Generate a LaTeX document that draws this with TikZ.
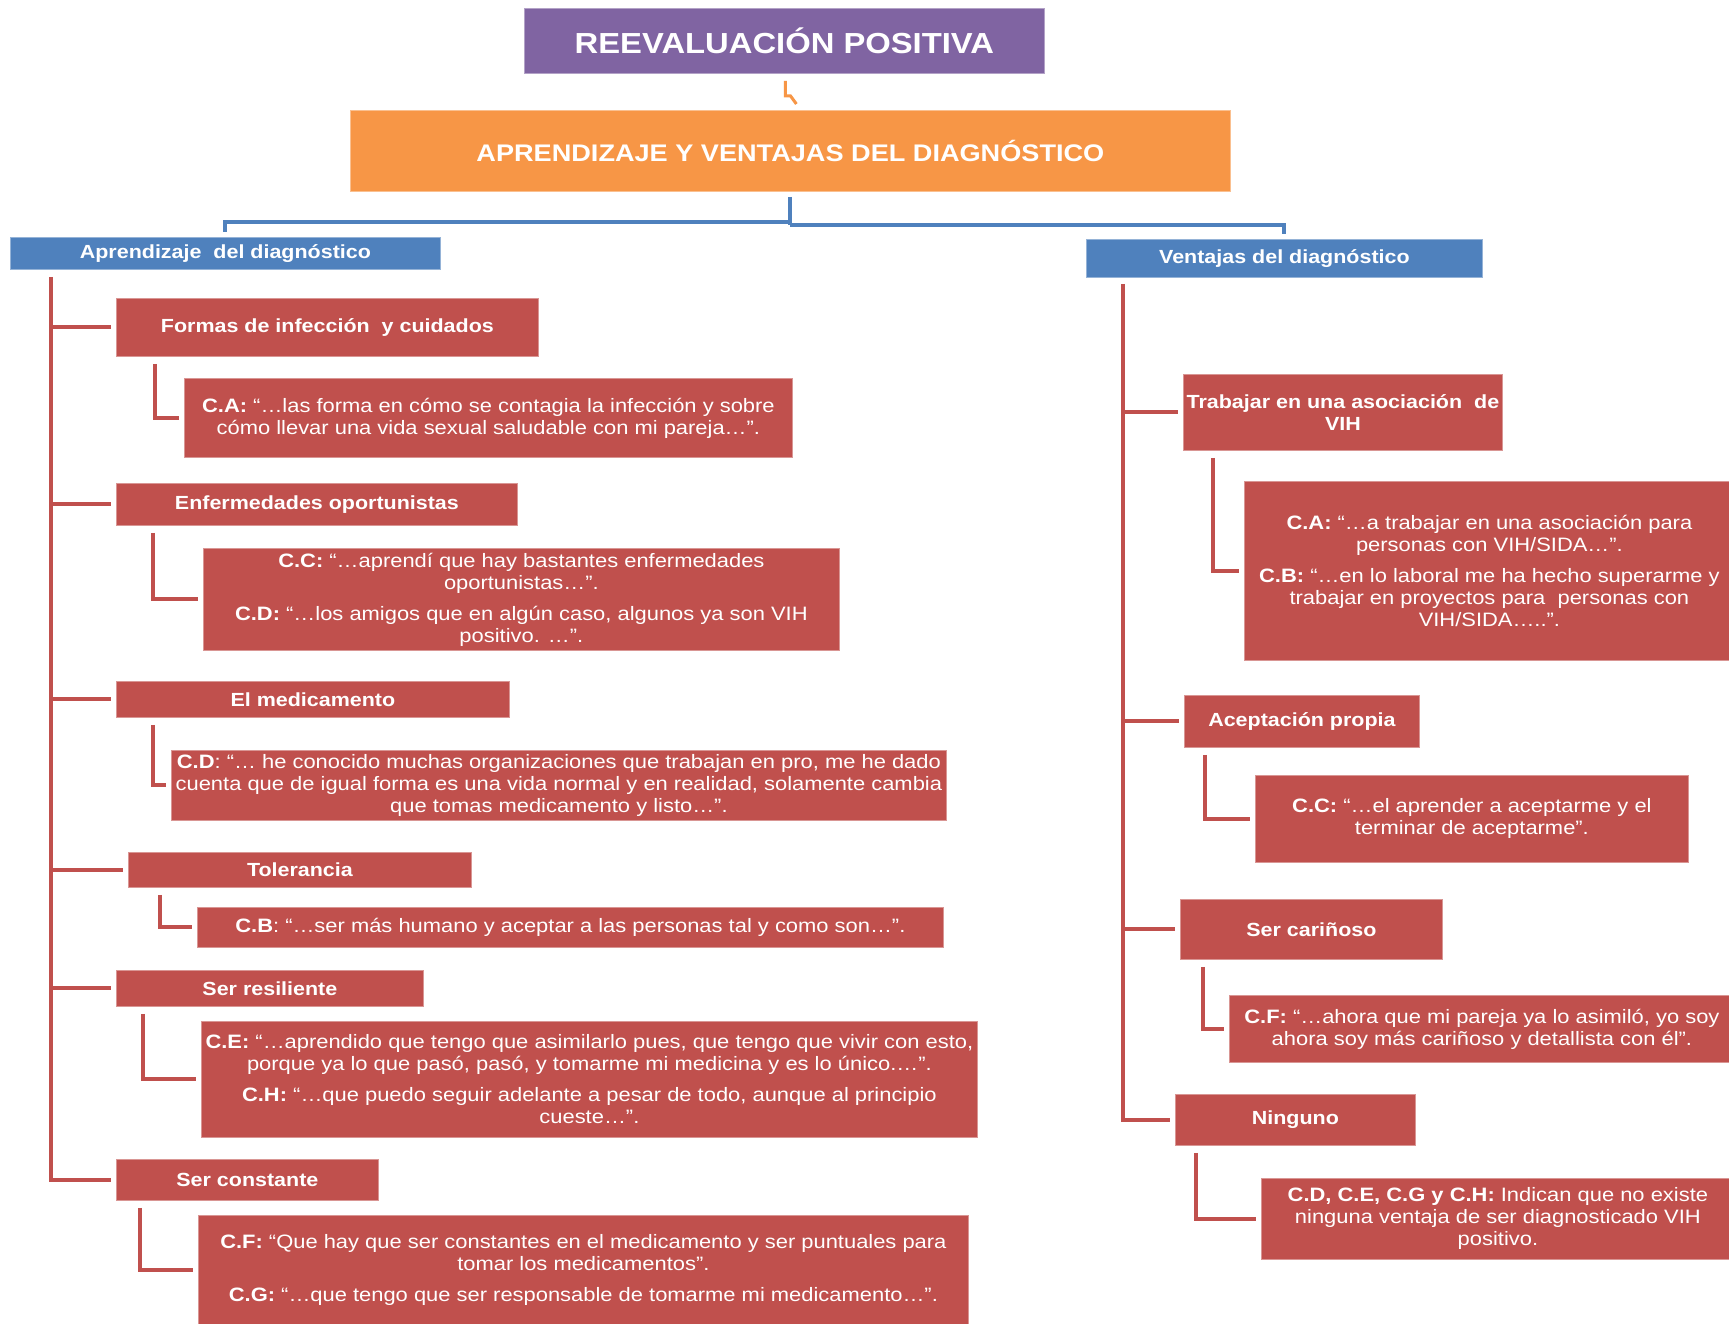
\documentclass[tikz,border=0pt]{standalone}
\usepackage{fontspec}
\setmainfont{Liberation Sans}[FakeStretch=1.13]
\usetikzlibrary{calc}
\definecolor{cpurple}{HTML}{8064A2}
\definecolor{corange}{HTML}{F79646}
\definecolor{cblue}{HTML}{4F81BD}
\definecolor{cred}{HTML}{C0504D}
\newcommand\catfont{\fontsize{19}{22}\selectfont\bfseries}
\newcommand\qfont{\fontsize{19.4}{22}\selectfont}
\tikzset{
  box/.style={anchor=north west, inner sep=0pt, align=center, text=white},
  purplebox/.style={box, fill=cpurple, draw=cpurple!60!white, line width=0.8pt, font=\fontsize{29}{32}\selectfont\bfseries},
  orangebox/.style={box, fill=corange, draw=corange!60!white, line width=0.8pt, font=\fontsize{24}{28}\selectfont\bfseries},
  bluebox/.style={box, fill=cblue, draw=cblue!60!white, line width=0.8pt, font=\catfont},
  catbox/.style={box, fill=cred, draw=cred!60!white, line width=0.8pt, font=\catfont},
  quotebox/.style={box, fill=cred, draw=cred!60!white, line width=0.8pt, font=\qfont},
  redline/.style={draw=cred, line width=4pt},
  blueline/.style={draw=cblue, line width=4pt},
  orangeline/.style={draw=corange, line width=3pt},
}
\begin{document}
\begin{tikzpicture}[x=1pt, y=-1pt]
\useasboundingbox (0,0) rectangle (1729,1323);
\clip (0,0) rectangle (1729,1323);
\fill[white] (0,0) rectangle (1729,1323);

% top levels
\node[purplebox, minimum width=520pt, minimum height=65pt] (T) at (524,8) {REEVALUACIÓN POSITIVA};
\node[orangebox, minimum width=880pt, minimum height=81pt] (O) at (350,110) {APRENDIZAJE Y VENTAJAS DEL DIAGNÓSTICO};
\node[bluebox, minimum width=430pt, minimum height=32pt] (Lhead) at (10,237) {Aprendizaje\ \ del diagnóstico};
\node[bluebox, minimum width=396pt, minimum height=38pt] (Rhead) at (1086,239) {Ventajas del diagnóstico};

% left branch: categories
\node[catbox, minimum width=422pt, minimum height=58pt] (L1) at (116,298) {Formas de infección\ \ y cuidados};
\node[catbox, minimum width=401pt, minimum height=42pt] (L2) at (116,483) {Enfermedades oportunistas};
\node[catbox, minimum width=393pt, minimum height=36pt] (L3) at (116,681) {El medicamento};
\node[catbox, minimum width=343pt, minimum height=35pt] (L4) at (128,852) {Tolerancia};
\node[catbox, minimum width=307pt, minimum height=36pt] (L5) at (116,970) {Ser resiliente};
\node[catbox, minimum width=262pt, minimum height=41pt] (L6) at (116,1159) {Ser constante};

% left branch: quotes
\node[quotebox, minimum width=608pt, minimum height=79pt] (Q1) at (184,378)
  {\textbf{C.A:} “…las forma en cómo se contagia la infección y sobre\\
   cómo llevar una vida sexual saludable con mi pareja…”.};
\node[quotebox, minimum width=636pt, minimum height=102pt] (Q2) at (203,548)
  {\textbf{C.C:} “…aprendí que hay bastantes enfermedades\\
   oportunistas…”.\\[9pt]
   \textbf{C.D:} “…los amigos que en algún caso, algunos ya son VIH\\
   positivo. …”.};
\node[quotebox, minimum width=775pt, minimum height=70pt] (Q3) at (171,750)
  {\textbf{C.D}: “… he conocido muchas organizaciones que trabajan en pro, me he dado\\
   cuenta que de igual forma es una vida normal y en realidad, solamente cambia\\
   que tomas medicamento y listo…”.};
\node[quotebox, minimum width=746pt, minimum height=40pt] (Q4) at (197,907)
  {\textbf{C.B}: “…ser más humano y aceptar a las personas tal y como son…”.};
\node[quotebox, minimum width=776pt, minimum height=116pt] (Q5) at (201,1021)
  {\textbf{C.E:} “…aprendido que tengo que asimilarlo pues, que tengo que vivir con esto,\\
   porque ya lo que pasó, pasó, y tomarme mi medicina y es lo único.…”.\\[9pt]
   \textbf{C.H:} “…que puedo seguir adelante a pesar de todo, aunque al principio\\
   cueste…”.};
\node[quotebox, minimum width=770pt, minimum height=110pt] (Q6) at (198,1215)
  {\textbf{C.F:} “Que hay que ser constantes en el medicamento y ser puntuales para\\
   tomar los medicamentos”.\\[9pt]
   \textbf{C.G:} “…que tengo que ser responsable de tomarme mi medicamento…”.};

% right branch: categories
\node[catbox, minimum width=319pt, minimum height=76pt] (R1) at (1183,374) {Trabajar en una asociación\ \ de\\VIH};
\node[catbox, minimum width=235pt, minimum height=52pt] (R2) at (1184,695) {Aceptación propia};
\node[catbox, minimum width=262pt, minimum height=60pt] (R3) at (1180,899) {Ser cariñoso};
\node[catbox, minimum width=240pt, minimum height=51pt] (R4) at (1175,1094) {Ninguno};

% right branch: quotes
\node[quotebox, minimum width=490pt, minimum height=179pt] (RQ1) at (1244,481)
  {\textbf{C.A:} “…a trabajar en una asociación para\\
   personas con VIH/SIDA…”.\\[9pt]
   \textbf{C.B:} “…en lo laboral me ha hecho superarme y\\
   trabajar en proyectos para\ \ personas con\\
   VIH/SIDA…..”.};
\node[quotebox, minimum width=433pt, minimum height=87pt] (RQ2) at (1255,775)
  {\textbf{C.C:} “…el aprender a aceptarme y el\\
   terminar de aceptarme”.};
\node[quotebox, minimum width=505pt, minimum height=67pt] (RQ3) at (1229,995)
  {\textbf{C.F:} “…ahora que mi pareja ya lo asimiló, yo soy\\
   ahora soy más cariñoso y detallista con él”.};
\node[quotebox, minimum width=473pt, minimum height=81pt] (RQ4) at (1261,1178)
  {\textbf{C.D, C.E, C.G y C.H:} Indican que no existe\\
   ninguna ventaja de ser diagnosticado VIH\\
   positivo.};

% title to main heading
\draw[orangeline] ([xshift=1pt,yshift=-7pt]T.south) -- ++(0,15) -- ++(5,0) -- ([xshift=6pt,yshift=6pt]O.north);

% main heading to the two headers
\coordinate (J) at ($(O.south)+(0,33)$);
\draw[blueline] ([yshift=-5pt]O.south) -- (J);
\draw[blueline] ([yshift=3pt]J) -| ([yshift=5pt]Lhead.north);
\draw[blueline] (J) -| ([yshift=5pt]Rhead.north);

% left trunk and branches
\coordinate (Ltop) at ($(Lhead.south west)+(41,7)$);
\draw[redline] (Ltop) |- ([xshift=-5pt]L6.west);
\foreach \n in {L1,L2,L3,L4,L5}
  \draw[redline] (Ltop |- \n.west) -- ([xshift=-5pt]\n.west);

% left elbows
\draw[redline] ($(L1.south west)+(39,7)$) |- ([xshift=-5pt]Q1.west);
\draw[redline] ($(L2.south west)+(37,7)$) |- ([xshift=-5pt]Q2.west);
\draw[redline] ($(L3.south west)+(37,7)$) |- ([xshift=-5pt]Q3.west);
\draw[redline] ($(L4.south west)+(32,7)$) |- ([xshift=-5pt]Q4.west);
\draw[redline] ($(L5.south west)+(27,7)$) |- ([xshift=-5pt]Q5.west);
\draw[redline] ($(L6.south west)+(24,7)$) |- ([xshift=-5pt]Q6.west);

% right trunk and branches
\coordinate (Rtop) at ($(Rhead.south west)+(37,6)$);
\draw[redline] (Rtop) |- ([xshift=-5pt]R4.west);
\foreach \n in {R1,R2,R3}
  \draw[redline] (Rtop |- \n.west) -- ([xshift=-5pt]\n.west);

% right elbows
\draw[redline] ($(R1.south west)+(30,7)$) |- ([xshift=-5pt]RQ1.west);
\draw[redline] ($(R2.south west)+(21,7)$) |- ([xshift=-5pt]RQ2.west);
\draw[redline] ($(R3.south west)+(23,7)$) |- ([xshift=-5pt]RQ3.west);
\draw[redline] ($(R4.south west)+(21,7)$) |- ([xshift=-5pt]RQ4.west);
\end{tikzpicture}
\end{document}
